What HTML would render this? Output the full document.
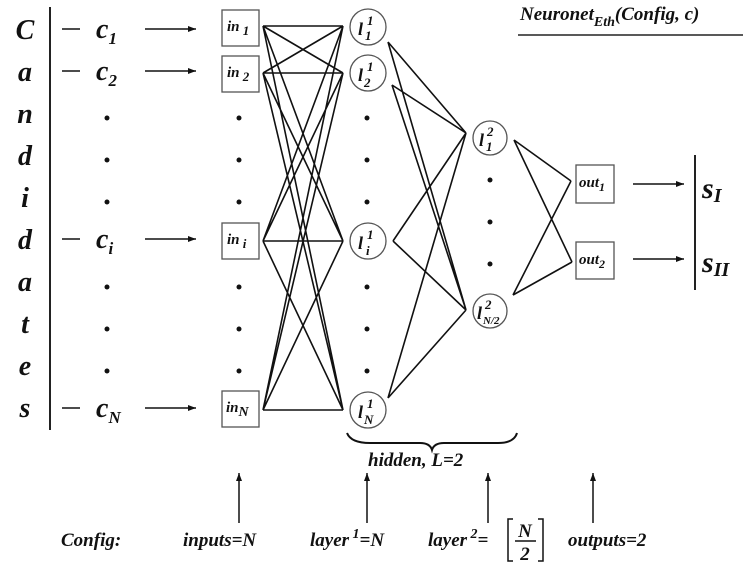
<!DOCTYPE html>
<html><head><meta charset="utf-8"><style>
html,body{margin:0;padding:0;background:#fff;}
svg{display:block;}
text{font-family:"Liberation Serif",serif;font-weight:bold;font-style:italic;fill:#111;}
</style></head><body>
<svg width="750" height="563" viewBox="0 0 750 563" xmlns="http://www.w3.org/2000/svg">
<defs><marker id="ah" markerWidth="8" markerHeight="6" refX="8" refY="3" orient="auto" markerUnits="userSpaceOnUse"><path d="M0,0 L8,3 L0,6 Z" fill="#111"/></marker></defs>
<g font-size="28" text-anchor="middle">
<text x="25" y="39">C</text><text x="25" y="81">a</text><text x="25" y="123">n</text><text x="25" y="165">d</text><text x="25" y="207">i</text><text x="25" y="249">d</text><text x="25" y="291">a</text><text x="25" y="333">t</text><text x="25" y="375">e</text><text x="25" y="417">s</text>
</g>
<line x1="50" y1="7" x2="50" y2="430" stroke="#222" stroke-width="2"/>
<g stroke="#111" stroke-width="1.6">
<line x1="62" y1="29" x2="80" y2="29"/><line x1="62" y1="71" x2="80" y2="71"/><line x1="62" y1="239" x2="80" y2="239"/><line x1="62" y1="408" x2="80" y2="408"/>
</g>
<g font-size="28">
<text x="96" y="38">c<tspan font-size="17" dy="6">1</tspan></text>
<text x="96" y="80">c<tspan font-size="17" dy="6">2</tspan></text>
<text x="96" y="248">c<tspan font-size="17" dy="6">i</tspan></text>
<text x="96" y="417">c<tspan font-size="17" dy="6">N</tspan></text>
</g>
<g stroke="#111" stroke-width="1.5" marker-end="url(#ah)">
<line x1="145" y1="29" x2="196" y2="29"/><line x1="145" y1="71" x2="196" y2="71"/><line x1="145" y1="239" x2="196" y2="239"/><line x1="145" y1="408" x2="196" y2="408"/>
<line x1="633" y1="184" x2="684" y2="184"/><line x1="633" y1="259" x2="684" y2="259"/>
<line x1="239" y1="523" x2="239" y2="473"/><line x1="367" y1="523" x2="367" y2="473"/><line x1="488" y1="523" x2="488" y2="473"/><line x1="593" y1="523" x2="593" y2="473"/>
</g>
<g fill="#111">
<circle cx="107" cy="118" r="2.5"/><circle cx="107" cy="160" r="2.5"/><circle cx="107" cy="202" r="2.5"/><circle cx="107" cy="287" r="2.5"/><circle cx="107" cy="329" r="2.5"/><circle cx="107" cy="371" r="2.5"/>
<circle cx="239" cy="118" r="2.5"/><circle cx="239" cy="160" r="2.5"/><circle cx="239" cy="202" r="2.5"/><circle cx="239" cy="287" r="2.5"/><circle cx="239" cy="329" r="2.5"/><circle cx="239" cy="371" r="2.5"/>
<circle cx="367" cy="118" r="2.5"/><circle cx="367" cy="160" r="2.5"/><circle cx="367" cy="202" r="2.5"/><circle cx="367" cy="287" r="2.5"/><circle cx="367" cy="329" r="2.5"/><circle cx="367" cy="371" r="2.5"/>
<circle cx="490" cy="180" r="2.5"/><circle cx="490" cy="222" r="2.5"/><circle cx="490" cy="264" r="2.5"/>
</g>
<!-- input to layer1 -->
<g stroke="#111" stroke-width="1.6" fill="none">
<path d="M263,26 L343,26 M263,26 L343,73 M263,26 L343,241 M263,26 L343,410
M263,73 L343,26 M263,73 L343,73 M263,73 L343,241 M263,73 L343,410
M263,241 L343,26 M263,241 L343,73 M263,241 L343,241 M263,241 L343,410
M263,410 L343,26 M263,410 L343,73 M263,410 L343,241 M263,410 L343,410"/>
<path d="M388,42 L466,133 M388,42 L466,310 M392,85 L466,133 M392,85 L466,310 M393,241 L466,133 M393,241 L466,310 M388,398 L466,133 M388,398 L466,310"/>
<path d="M514,140 L571,181 M514,140 L572,262 M513,295 L571,181 M513,295 L572,262"/>
</g>
<g fill="#fff" stroke="#555" stroke-width="1.3">
<rect x="222" y="10" width="37" height="36"/><rect x="222" y="56" width="37" height="36"/><rect x="222" y="223" width="37" height="36"/><rect x="222" y="391" width="37" height="36"/>
<rect x="576" y="165" width="38" height="38"/><rect x="576" y="242" width="38" height="37"/>
<circle cx="368" cy="27" r="18"/><circle cx="368" cy="73" r="18"/><circle cx="368" cy="241" r="18"/><circle cx="368" cy="410" r="18"/>
<circle cx="490" cy="138" r="17"/><circle cx="490" cy="311" r="17"/>
</g>
<g font-size="15">
<text x="227" y="31">in<tspan font-size="13" dy="4"> 1</tspan></text>
<text x="227" y="77">in<tspan font-size="13" dy="4"> 2</tspan></text>
<text x="227" y="244">in<tspan font-size="13" dy="4"> i</tspan></text>
<text x="226" y="412">in<tspan font-size="14" dy="4">N</tspan></text>
<text x="579" y="187">out<tspan font-size="12" dy="4">1</tspan></text>
<text x="579" y="264">out<tspan font-size="12" dy="4">2</tspan></text>
</g>
<g font-size="18">
<text x="358" y="35">l</text><text x="367" y="25" font-size="13">1</text><text x="365" y="40" font-size="13">1</text>
<text x="358" y="81">l</text><text x="367" y="71" font-size="13">1</text><text x="364" y="87" font-size="13">2</text>
<text x="358" y="249">l</text><text x="367" y="239" font-size="13">1</text><text x="366" y="255" font-size="13">i</text>
<text x="358" y="418">l</text><text x="367" y="408" font-size="13">1</text><text x="364" y="424" font-size="13">N</text>
<text x="479" y="146">l</text><text x="487" y="136" font-size="13">2</text><text x="486" y="151" font-size="13">1</text>
<text x="477" y="319">l</text><text x="485" y="309" font-size="13">2</text><text x="483" y="324" font-size="11">N/2</text>
</g>
<line x1="695" y1="155" x2="695" y2="290" stroke="#222" stroke-width="2"/>
<text x="702" y="198" font-size="30">s<tspan font-size="20" dy="4">I</tspan></text>
<text x="702" y="272" font-size="30">s<tspan font-size="20" dy="4">II</tspan></text>
<text x="520" y="20" font-size="19">Neuronet<tspan font-size="14" dy="6">Eth</tspan><tspan dy="-6">(Config, c)</tspan></text>
<line x1="518" y1="35" x2="743" y2="35" stroke="#222" stroke-width="1.5"/>
<path d="M347,433 Q351,443 370,443 L420,443 Q430,443 432,450 Q434,443 444,443 L498,443 Q514,443 517,433" fill="none" stroke="#111" stroke-width="2"/>
<text x="368" y="466" font-size="19">hidden, L=2</text>
<g font-size="19">
<text x="61" y="546">Config:</text>
<text x="183" y="546">inputs=N</text>
<text x="310" y="546">layer<tspan font-size="14" dy="-8"> 1</tspan><tspan dy="8">=N</tspan></text>
<text x="428" y="546">layer<tspan font-size="14" dy="-8"> 2</tspan><tspan dy="8">=</tspan></text>
<text x="568" y="546">outputs=2</text>
<text x="525" y="537" text-anchor="middle">N</text>
<text x="525" y="560" text-anchor="middle">2</text>
</g>
<path d="M513,519 L508,519 L508,561 L513,561 M538,519 L543,519 L543,561 L538,561 M515,541 L536,541" fill="none" stroke="#111" stroke-width="1.5"/>
</svg>
</body></html>
